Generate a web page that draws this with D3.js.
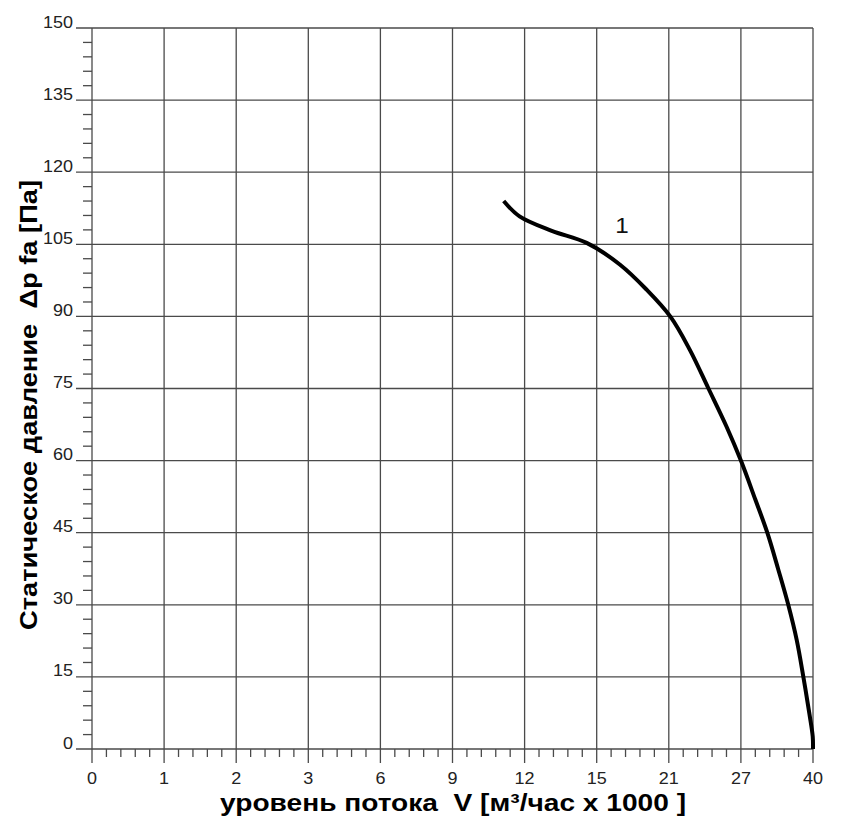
<!DOCTYPE html>
<html>
<head>
<meta charset="utf-8">
<script src="https://cdn.jsdelivr.net/npm/d3@7"></script>
<style>
  body { margin: 0; background: #fff; }
  text { font-family: "Liberation Sans", Arial, sans-serif; }
</style>
</head>
<body>
<svg id="chart" width="846" height="821"></svg>
<script>
// x axis ticks are not evenly spaced in value, only in position
var flowTicks = [0, 1, 2, 3, 6, 9, 12, 15, 21, 27, 40];
var pressureTicks = [0, 15, 30, 45, 60, 75, 90, 105, 120, 135, 150];

// curve 1, flow (m3/h x 1000) and static pressure (Pa)
var curveFlow = [11.13, 11.79, 13.13, 14.58, 16.92, 19.14, 21.12, 22.74, 24.3, 25.8, 27, 29.6, 31.76, 33.75, 35.54, 37.06, 38.26, 39.34, 39.95, 40];
var curvePressure = [114, 110.8, 107.8, 105.3, 100.8, 95.6, 90, 83.1, 75, 67.1, 60, 51.9, 45, 37.3, 30, 22.7, 15, 7.4, 2.6, 0];

var svg = d3.select("#chart");
var plotLeft = 92, plotRight = 813, plotTop = 28, plotBottom = 749;
var gridColor = "#4a4a4a";

// piecewise scale, one equal step per tick label
var x = d3.scaleLinear()
    .domain(flowTicks)
    .range(flowTicks.map(function(d, i){ return plotLeft + i * (plotRight - plotLeft) / (flowTicks.length - 1); }));
var y = d3.scaleLinear().domain([0, 150]).range([plotBottom, plotTop]);

var grid = svg.append("g").attr("class", "grid");

// horizontal grid lines, they also stick out as the major y ticks
grid.selectAll("line.h").data(pressureTicks).enter().append("line")
    .attr("x1", plotLeft - 16).attr("x2", plotRight)
    .attr("y1", function(d){ return y(d); }).attr("y2", function(d){ return y(d); })
    .style("stroke", gridColor).style("stroke-width", 1.3);

// vertical grid lines plus the major x ticks below the axis
grid.selectAll("line.v").data(flowTicks).enter().append("line")
    .attr("x1", function(d){ return x(d); }).attr("x2", function(d){ return x(d); })
    .attr("y1", plotTop).attr("y2", plotBottom + 14)
    .style("stroke", gridColor).style("stroke-width", 1.3);

// minor ticks, 4 between each pair of major ticks
var minorY = [];
for (var i = 0; i < pressureTicks.length - 1; i++){
    for (var k = 1; k < 5; k++) minorY.push(y(pressureTicks[i] + k * 3));
}
grid.selectAll("line.my").data(minorY).enter().append("line")
    .attr("x1", plotLeft - 9).attr("x2", plotLeft)
    .attr("y1", function(d){ return d; }).attr("y2", function(d){ return d; })
    .style("stroke", gridColor).style("stroke-width", 1.3);

var minorX = [];
for (var i = 0; i < flowTicks.length - 1; i++){
    var x0 = x(flowTicks[i]), x1 = x(flowTicks[i + 1]);
    for (var k = 1; k < 5; k++) minorX.push(x0 + k * (x1 - x0) / 5);
}
grid.selectAll("line.mx").data(minorX).enter().append("line")
    .attr("x1", function(d){ return d; }).attr("x2", function(d){ return d; })
    .attr("y1", plotBottom).attr("y2", plotBottom + 8)
    .style("stroke", gridColor).style("stroke-width", 1.3);

// tick labels, the original font is a bit wide so stretch them
svg.append("g").selectAll("text").data(pressureTicks).enter().append("text")
    .attr("transform", function(d){ return "translate(" + (plotLeft - 19) + "," + (y(d) - 0.5) + ") scale(1.06,1)"; })
    .attr("text-anchor", "end")
    .style("font-size", "17px").style("fill", "#222")
    .text(function(d){ return d; });

svg.append("g").selectAll("text").data(flowTicks).enter().append("text")
    .attr("transform", function(d){ return "translate(" + x(d) + "," + (plotBottom + 35) + ") scale(1.06,1)"; })
    .attr("text-anchor", "middle")
    .style("font-size", "17px").style("fill", "#222")
    .text(function(d){ return d; });

// the curve
var line = d3.line()
    .curve(d3.curveCatmullRom.alpha(0.5))
    .x(function(d){ return x(d[0]); })
    .y(function(d){ return y(d[1]); });
svg.append("path")
    .datum(curveFlow.map(function(f, i){ return [f, curvePressure[i]]; }))
    .attr("d", line)
    .style("fill", "none").style("stroke", "#000").style("stroke-width", 4)
    .style("stroke-linejoin", "round");

svg.append("text")
    .attr("transform", "translate(" + x(17.1) + "," + y(107.3) + ") scale(1.1,1)")
    .attr("text-anchor", "middle")
    .style("font-size", "22px").style("fill", "#111")
    .text("1");

// axis titles, stretched to the width they take in the original
svg.append("text")
    .attr("x", 453).attr("y", 811)
    .attr("text-anchor", "middle")
    .attr("textLength", 466).attr("lengthAdjust", "spacingAndGlyphs")
    .style("font-size", "24px").style("font-weight", "bold").style("white-space", "pre")
    .text("уровень потока  V [м³/час x 1000 ]");

svg.append("text")
    .attr("transform", "translate(37,405) rotate(-90)")
    .attr("text-anchor", "middle")
    .attr("textLength", 450).attr("lengthAdjust", "spacingAndGlyphs")
    .style("font-size", "24px").style("font-weight", "bold").style("white-space", "pre")
    .text("Статическое давление  Δp fa [Па]");
</script>
</body>
</html>
